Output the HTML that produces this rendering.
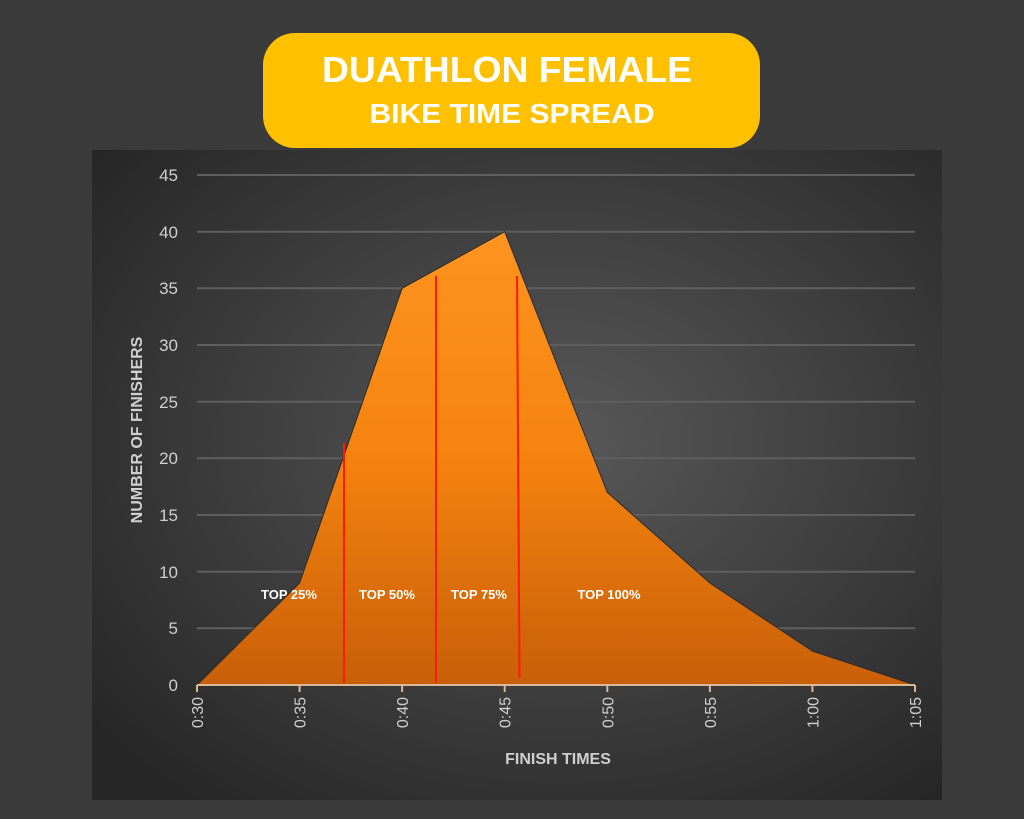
<!DOCTYPE html>
<html><head><meta charset="utf-8"><style>
html,body{margin:0;padding:0;background:#3a3a3a;}
svg{display:block;font-family:"Liberation Sans",sans-serif;}
</style></head><body>
<svg width="1024" height="819" viewBox="0 0 1024 819" xmlns="http://www.w3.org/2000/svg">
<defs>
<radialGradient id="bg" cx="0.55" cy="0.45" r="0.7">
<stop offset="0" stop-color="#585858"/><stop offset="1" stop-color="#262626"/>
</radialGradient>
<linearGradient id="fill" gradientUnits="userSpaceOnUse" x1="0" y1="230" x2="0" y2="685">
<stop offset="0" stop-color="#ff9420"/><stop offset="0.5" stop-color="#f5830f"/><stop offset="1" stop-color="#c85f08"/>
</linearGradient>
</defs>
<rect width="1024" height="819" fill="#3a3a3a"/>
<rect x="263" y="33" width="497" height="115" rx="32" fill="#ffc000"/>
<text x="507" y="82" text-anchor="middle" font-size="36" font-weight="bold" fill="#fff" textLength="370" lengthAdjust="spacingAndGlyphs">DUATHLON FEMALE</text>
<text x="512" y="123" text-anchor="middle" font-size="28" font-weight="bold" fill="#fff" textLength="285" lengthAdjust="spacingAndGlyphs">BIKE TIME SPREAD</text>
<rect x="92" y="150" width="850" height="650" fill="url(#bg)"/>
<g stroke="#5e5e5e" stroke-width="2">
<line x1="197" x2="915" y1="175" y2="175"/><line x1="197" x2="915" y1="231.7" y2="231.7"/>
<line x1="197" x2="915" y1="288.3" y2="288.3"/><line x1="197" x2="915" y1="345" y2="345"/>
<line x1="197" x2="915" y1="401.7" y2="401.7"/><line x1="197" x2="915" y1="458.3" y2="458.3"/>
<line x1="197" x2="915" y1="515" y2="515"/><line x1="197" x2="915" y1="571.7" y2="571.7"/>
<line x1="197" x2="915" y1="628.3" y2="628.3"/>
</g>
<g font-size="17" fill="#cfcfcf" text-anchor="end">
<text x="178" y="181">45</text><text x="178" y="238">40</text><text x="178" y="294">35</text>
<text x="178" y="351">30</text><text x="178" y="408">25</text><text x="178" y="464">20</text>
<text x="178" y="521">15</text><text x="178" y="578">10</text><text x="178" y="634">5</text>
<text x="178" y="691">0</text>
</g>
<polygon points="197,685 299.6,583 402.1,288.3 504.7,231.7 607.3,492.3 709.9,583 812.4,651 915,685" fill="url(#fill)" stroke="#2a2a2a" stroke-width="1"/>
<line x1="197" x2="915" y1="685" y2="685" stroke="#d9b89a" stroke-width="2"/>
<g stroke="#d9b89a" stroke-width="2">
<line x1="197" x2="197" y1="685" y2="692"/><line x1="299.6" x2="299.6" y1="685" y2="692"/>
<line x1="402.1" x2="402.1" y1="685" y2="692"/><line x1="504.7" x2="504.7" y1="685" y2="692"/>
<line x1="607.3" x2="607.3" y1="685" y2="692"/><line x1="709.9" x2="709.9" y1="685" y2="692"/>
<line x1="812.4" x2="812.4" y1="685" y2="692"/><line x1="915" x2="915" y1="685" y2="692"/>
</g>
<g stroke="#ff1a00" stroke-width="2">
<line x1="344" x2="344" y1="443" y2="683"/>
<line x1="436" x2="436" y1="276" y2="683"/>
<line x1="517" x2="519.5" y1="276" y2="678"/>
</g>
<g font-size="13" font-weight="bold" fill="#fff" text-anchor="middle">
<text x="289" y="599">TOP 25%</text><text x="387" y="599">TOP 50%</text>
<text x="479" y="599">TOP 75%</text><text x="609" y="599">TOP 100%</text>
</g>
<g font-size="16" fill="#cfcfcf" text-anchor="end">
<text transform="translate(203,697) rotate(-90)">0:30</text>
<text transform="translate(305.6,697) rotate(-90)">0:35</text>
<text transform="translate(408.1,697) rotate(-90)">0:40</text>
<text transform="translate(510.7,697) rotate(-90)">0:45</text>
<text transform="translate(613.3,697) rotate(-90)">0:50</text>
<text transform="translate(715.9,697) rotate(-90)">0:55</text>
<text transform="translate(818.4,697) rotate(-90)">1:00</text>
<text transform="translate(921,697) rotate(-90)">1:05</text>
</g>
<text x="558" y="764" text-anchor="middle" font-size="16" font-weight="bold" fill="#d0d0d0">FINISH TIMES</text>
<text transform="translate(142,430) rotate(-90)" text-anchor="middle" font-size="16" font-weight="bold" fill="#d0d0d0">NUMBER OF FINISHERS</text>
</svg>
</body></html>
